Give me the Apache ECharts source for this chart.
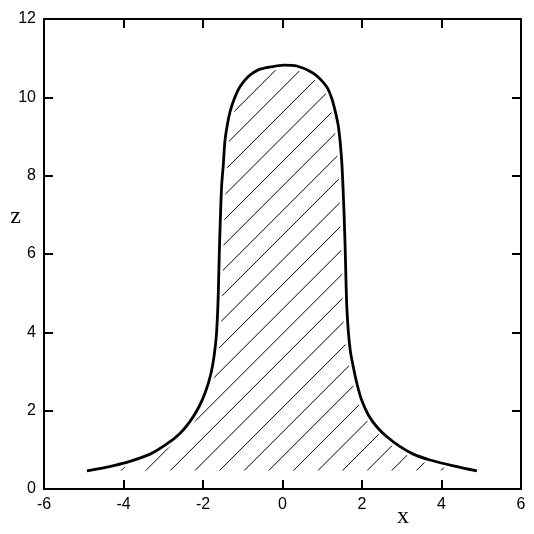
<!DOCTYPE html>
<html><head><meta charset="utf-8">
<script src="https://cdn.jsdelivr.net/npm/echarts@6/dist/echarts.min.js"></script>
<style>html,body{margin:0;padding:0;background:#fff}#c{width:534px;height:534px}</style>
</head><body><div id="c"></div>
<script>
// Profile of the hump (x, z)
const profileX = [-4.92,-4.42,-3.92,-3.33,-2.91,-2.58,-2.33,-2.10,-1.93,-1.80,-1.72,-1.66,-1.62,-1.59,-1.56,-1.53,-1.49,-1.45,-1.39,-1.32,-1.21,-1.07,-0.86,-0.61,-0.27,0.03,0.36,0.78,1.11,1.24,1.33,1.40,1.45,1.49,1.52,1.55,1.58,1.60,1.62,1.66,1.71,1.78,1.87,1.99,2.16,2.37,2.62,2.96,3.29,3.71,4.30,4.89];
const profileZ = [0.46,0.56,0.68,0.89,1.15,1.42,1.72,2.10,2.50,2.95,3.40,3.97,4.83,6.02,7.00,7.76,8.27,8.87,9.29,9.63,9.97,10.27,10.53,10.70,10.78,10.82,10.80,10.61,10.27,9.97,9.63,9.29,8.87,8.37,7.76,7.00,6.02,5.20,4.60,3.97,3.50,3.12,2.70,2.27,1.89,1.59,1.34,1.08,0.89,0.74,0.59,0.46];
const baseZ = 0.47;              // lower edge of the hatched region
const xRange = [-6, 6, 2];       // min, max, tick step
const zRange = [0, 12, 2];
const xName = 'x';
const zName = 'z';

const profile = profileX.map((x, i) => [x, profileZ[i]]);

// diagonal hatch pattern
function hatch() {
  const size = 123, period = 24.6, phase = 1.3;
  const cv = document.createElement('canvas');
  cv.width = size; cv.height = size;
  const ctx = cv.getContext('2d');
  ctx.strokeStyle = '#000';
  ctx.lineWidth = 1;
  for (let k = -1; k <= 11; k++) {
    const s = phase + k * period;
    ctx.beginPath();
    ctx.moveTo(s + 10, -10);
    ctx.lineTo(-10, s + 10);
    ctx.stroke();
  }
  return cv;
}

const font = 'Liberation Sans, Arial, sans-serif';
const serif = 'Liberation Serif, Times New Roman, serif';
const axisLineStyle = { color: '#000', width: 2 };

function xAxisDef(pos, showLabel) {
  return {
    type: 'value', position: pos, min: xRange[0], max: xRange[1], interval: xRange[2],
    axisLine: { show: true, onZero: false, lineStyle: axisLineStyle },
    axisTick: { show: true, inside: true, length: 9, lineStyle: { color: '#000', width: 2 } },
    axisLabel: { show: showLabel, color: '#000', fontSize: 16, fontFamily: font, margin: 8 },
    splitLine: { show: false }
  };
}
function yAxisDef(pos, showLabel) {
  return {
    type: 'value', position: pos, min: zRange[0], max: zRange[1], interval: zRange[2],
    axisLine: { show: true, onZero: false, lineStyle: axisLineStyle },
    axisTick: { show: true, inside: true, length: 9, lineStyle: { color: '#000', width: 2 } },
    axisLabel: { show: showLabel, color: '#000', fontSize: 16, fontFamily: font, margin: 8 },
    splitLine: { show: false }
  };
}

const xBottom = Object.assign(xAxisDef('bottom', true), {
  name: xName, nameLocation: 'middle', nameGap: 16, nameMoveOverlap: false,
  nameTextStyle: { fontFamily: serif, fontSize: 24, color: '#000', padding: [0, 0, 0, 241] }
});
const yLeft = Object.assign(yAxisDef('left', true), {
  name: zName, nameLocation: 'middle', nameGap: 23, nameRotate: 0, nameMoveOverlap: false,
  nameTextStyle: { fontFamily: serif, fontSize: 24, color: '#000', verticalAlign: 'bottom', lineHeight: 74 }
});

const chart = echarts.init(document.getElementById('c'), null, { renderer: 'canvas' });
chart.setOption({
  animation: false,
  backgroundColor: '#fff',
  grid: { left: 44, right: 13, top: 19, bottom: 45, containLabel: false, outerBoundsMode: 'none' },
  xAxis: [xBottom, xAxisDef('top', false)],
  yAxis: [yLeft, yAxisDef('right', false)],
  series: [
    {
      type: 'line', data: profile, xAxisIndex: 0, yAxisIndex: 0,
      showSymbol: false, smooth: 0.25,
      lineStyle: { color: '#fff', width: 8 },
      areaStyle: { origin: baseZ, color: { image: hatch(), repeat: 'repeat' }, opacity: 1 },
      silent: true
    },
    {
      type: 'line', data: profile, xAxisIndex: 0, yAxisIndex: 0,
      showSymbol: false, smooth: 0.25,
      lineStyle: { color: '#000', width: 2.8 },
      silent: true
    }
  ]
});
</script>
</body></html>
